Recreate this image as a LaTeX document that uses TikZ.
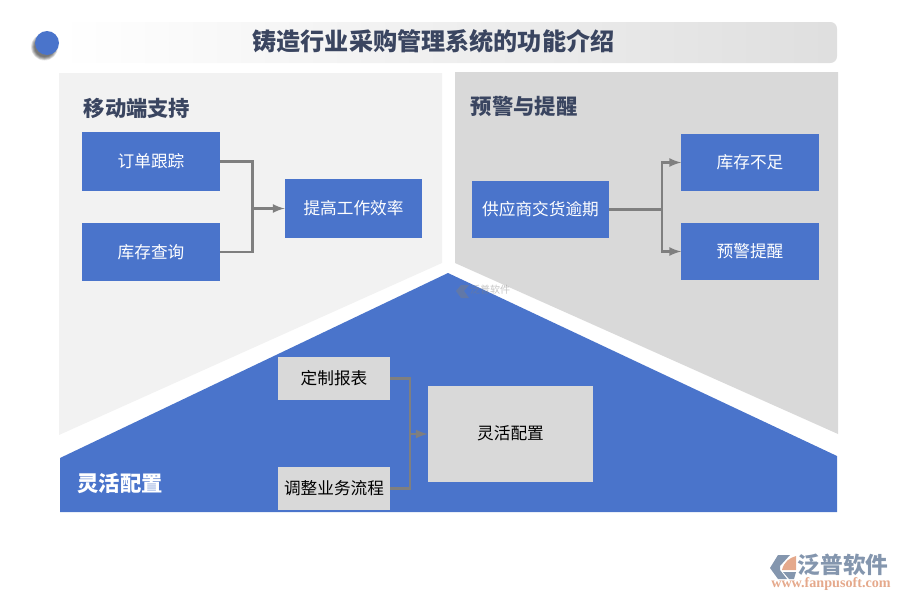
\documentclass[tikz,border=0pt]{standalone}
\usepackage{fontspec}
\setmainfont{Noto Sans CJK SC}
\newfontfamily\latinfont{Liberation Serif}
\usetikzlibrary{positioning,shapes}
\definecolor{fpblue}{HTML}{4A74CB}
\definecolor{fpgrey}{HTML}{D9D9D9}
\definecolor{fplight}{HTML}{F2F2F2}
\definecolor{fpline}{HTML}{7F7F7F}
\definecolor{fptitle}{HTML}{3A4560}
\definecolor{fplogo}{HTML}{8496AE}
\definecolor{fpsalmon}{HTML}{E5A98C}
\begin{document}
\begin{tikzpicture}[%
        x=0.75pt,
        y=-0.75pt,
        bluebox/.style={%
          fill=fpblue,
          text=white,
          minimum width=103pt,
          minimum height=43.5pt,
          inner sep=0pt,
          font=\fontsize{12.5pt}{15pt}\selectfont
        },
        greybox/.style={%
          fill=fpgrey,
          text=black,
          minimum width=84pt,
          minimum height=32.5pt,
          inner sep=0pt,
          font=\fontsize{12.5pt}{15pt}\selectfont
        },
        heading/.style={%
          text=fptitle,
          inner sep=0pt,
          font=\fontsize{16pt}{18pt}\selectfont\bfseries
        },
        link/.style={%
          draw=fpline,
          line width=2pt
        },
        linkarrow/.style={%
          link,
          ->,
          >=latex
        }
      ]
      \useasboundingbox (0,0) rectangle (900,600);
      % title bar
      \shade[left color=white,right color=fpgrey!85,rounded corners=5pt] (60,22) rectangle (837,63);
      \foreach \r in {13.5,13,12.5,12,11.5,11,10.5,10}
        \fill[black,opacity=0.09] (44.5,47) circle (\r);
      \fill[fpblue] (47,43) circle (12);
      \node[heading,font=\fontsize{18.1pt}{20pt}\selectfont\bfseries] (title) at (433.5,41.5) {铸造行业采购管理系统的功能介绍};
      % three panels
      \fill[fplight] (59,73) -- (442,73) -- (442,263) -- (59,435) -- cycle;
      \fill[fpgrey] (455,72) -- (838,72) -- (838,434) -- (455,263) -- cycle;
      \fill[fpblue] (448,273) -- (837,456) -- (837,512) -- (60,512) -- (60,458) -- cycle;
      % watermark
      \node[text=fpline,opacity=0.45,inner sep=0pt,font=\fontsize{7.5pt}{8pt}\selectfont] (mark) at (490,290) {泛普软件};
      \fill[fpline,opacity=0.45] (456,291) -- (461,285) -- (469,285) -- (464,291) -- (469,298) -- (461,298) -- cycle;

      \node[heading] (mobile) at (137,108) {移动端支持};
      \node[heading] (warn) at (524,106) {预警与提醒};
      \node[heading,text=white] (flex) at (120,483) {灵活配置};

      \node[bluebox,minimum height=44.25pt] (order) at (151,161.5) {订单跟踪};
      \node[bluebox] (stock) at (151,252) {库存查询};
      \node[bluebox,minimum height=44.25pt] (effic) at (353.5,208.5) {提高工作效率};
      \node[bluebox,minimum height=42.75pt] (supply) at (540.5,209.5) {供应商交货逾期};
      \node[bluebox,minimum height=42.75pt] (short) at (750,162.5) {库存不足};
      \node[bluebox,minimum height=42.75pt] (alert) at (750,251.5) {预警提醒};
      \node[greybox] (report) at (334,378.5) {定制报表};
      \node[greybox] (flow) at (334,488.5) {调整业务流程};
      \node[greybox,minimum width=124pt,minimum height=72pt] (config) at (510.5,434) {\raisebox{2.2pt}{灵活配置}};

      \coordinate (joinl) at (252.5,208.5);
      \coordinate (joinr) at (662,209.5);
      \coordinate (joinb) at (410,434);

      \draw[link] (order.east) -| (joinl);
      \draw[link] (stock.east) -| (joinl);
      \draw[linkarrow] (joinl) -- (effic.west);
      \draw[link] (supply.east) -- (joinr);
      \draw[linkarrow] (joinr) |- (short.west);
      \draw[linkarrow] (joinr) |- (alert.west);
      \draw[link] (report.east) -| (joinb);
      \draw[link] (flow.east) -| (joinb);
      \draw[linkarrow] (joinb) -- (config.west);

      % logo
      \fill[fplogo] (770,568) -- (778,555) -- (790,555) -- (780,566) -- (780,570) -- (787,579) -- (778,579) -- cycle;
      \fill[fpsalmon] (782,570) .. controls (784,562) and (789,558) .. (796,556) -- (796,570) -- cycle;
      \fill[fplogo] (783,572) -- (796,572) -- (794,579) -- (789,579) -- cycle;
      \node[text=fplogo,inner sep=0pt,font=\fontsize{17pt}{19pt}\selectfont\bfseries] (brand) at (843,565) {泛普软件};
      \node[text=fpsalmon,inner sep=0pt,font=\fontsize{10.6pt}{12pt}\selectfont\latinfont\bfseries] (site) at (831,584.5) {www.fanpusoft.com};
  \end{tikzpicture}
\end{document}
